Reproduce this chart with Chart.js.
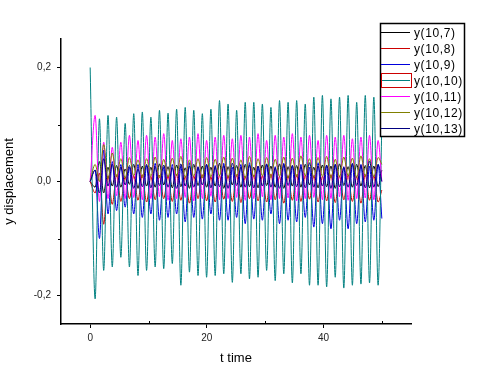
<!DOCTYPE html>
<html>
<head>
<meta charset="utf-8">
<script src="https://cdn.jsdelivr.net/npm/chart.js@4/dist/chart.umd.min.js"></script>
<style>
    html, body { margin: 0; padding: 0; background: #fff; }
</style>
</head>
<body>
<canvas id="dispChart" width="477" height="378"></canvas>
<script>
// sample times (turning points of y(10,10))
var tTime = [0, 0.85, 1.59, 2.32, 3.06, 3.79, 4.53, 5.26, 6.00, 6.73, 7.47, 8.20, 8.94, 9.67,
    10.41, 11.14, 11.88, 12.61, 13.35, 14.08, 14.82, 15.55, 16.29, 17.02, 17.76, 18.49, 19.23,
    19.96, 20.70, 21.43, 22.17, 22.90, 23.64, 24.37, 25.11, 25.84, 26.58, 27.31, 28.05, 28.78,
    29.52, 30.25, 30.99, 31.72, 32.46, 33.19, 33.93, 34.66, 35.40, 36.13, 36.87, 37.60, 38.34,
    39.07, 39.81, 40.54, 41.28, 42.01, 42.75, 43.48, 44.22, 44.95, 45.69, 46.42, 47.16, 47.89,
    48.63, 49.36, 50.00];

var y10_7 = [0,
    -0.010, 0.035, -0.020, 0.025, -0.008, 0.028, -0.010, 0.022, -0.005, 0.030, -0.012, 0.027,
    -0.008, 0.025, -0.010, 0.031, -0.006, 0.026, -0.011, 0.029, -0.009, 0.024, -0.012, 0.030,
    -0.007, 0.027, -0.010, 0.025, -0.008, 0.032, -0.012, 0.026, -0.006, 0.028, -0.010, 0.030,
    -0.009, 0.025, -0.011, 0.029, -0.007, 0.027, -0.010, 0.031, -0.012, 0.026, -0.008, 0.028,
    -0.010, 0.030, -0.006, 0.025, -0.011, 0.029, -0.009, 0.027, -0.012, 0.031, -0.007, 0.026,
    -0.010, 0.030, -0.008, 0.028, -0.011, 0.027,
    -0.009, 0.020];

var y10_8 = [0,
    -0.020, 0.015, -0.075, 0.010, -0.040, 0.012, -0.035, 0.008, -0.030, 0.010, -0.033, 0.012,
    -0.036, 0.009, -0.032, 0.011, -0.030, 0.010, -0.035, 0.013, -0.033, 0.009, -0.038, 0.010,
    -0.030, 0.012, -0.034, 0.008, -0.036, 0.011, -0.031, 0.010, -0.035, 0.012, -0.037, 0.009,
    -0.030, 0.011, -0.034, 0.010, -0.036, 0.013, -0.032, 0.009, -0.038, 0.010, -0.033, 0.012,
    -0.035, 0.011, -0.031, 0.010, -0.036, 0.009, -0.034, 0.012, -0.037, 0.010, -0.032, 0.011,
    -0.035, 0.009, -0.038, 0.012, -0.033, 0.010,
    -0.036, -0.015];

var y10_9 = [0,
    0.020, -0.100, 0.055, -0.057, 0.035, -0.051, 0.030, -0.045, 0.025, -0.057, 0.030, -0.063,
    0.028, -0.057, 0.032, -0.068, 0.025, -0.063, 0.030, -0.057, 0.027, -0.071, 0.033, -0.063,
    0.026, -0.066, 0.030, -0.057, 0.028, -0.068, 0.032, -0.068, 0.025, -0.063, 0.030, -0.074,
    0.033, -0.066, 0.027, -0.068, 0.030, -0.057, 0.026, -0.074, 0.032, -0.068, 0.028, -0.071,
    0.030, -0.063, 0.025, -0.080, 0.033, -0.074, 0.028, -0.083, 0.030, -0.068, 0.026, -0.083,
    0.032, -0.074, 0.030, -0.071, 0.027, -0.068,
    0.030, -0.065];

var y10_10 = [0.200,
    -0.206, 0.110, -0.156, 0.116, -0.150, 0.113, -0.133, 0.102, -0.150, 0.119, -0.165, 0.122,
    -0.156, 0.113, -0.150, 0.125, -0.153, 0.120, -0.144, 0.127, -0.182, 0.130, -0.159, 0.125,
    -0.165, 0.119, -0.168, 0.127, -0.165, 0.142, -0.162, 0.136, -0.177, 0.125, -0.162, 0.139,
    -0.171, 0.139, -0.168, 0.136, -0.156, 0.130, -0.174, 0.142, -0.162, 0.139, -0.178, 0.142,
    -0.162, 0.136, -0.182, 0.148, -0.182, 0.151, -0.185, 0.145, -0.168, 0.148, -0.187, 0.151,
    -0.182, 0.139, -0.180, 0.151, -0.178, 0.148,
    -0.182, 0.100];

var y10_11 = [0,
    0.116, -0.035, 0.069, -0.030, 0.060, -0.025, 0.069, -0.030, 0.081, -0.028, 0.072, -0.032,
    0.081, -0.030, 0.078, -0.027, 0.084, -0.033, 0.072, -0.030, 0.075, -0.028, 0.078, -0.034,
    0.084, -0.030, 0.072, -0.026, 0.078, -0.032, 0.081, -0.030, 0.075, -0.028, 0.081, -0.033,
    0.078, -0.030, 0.084, -0.027, 0.072, -0.032, 0.081, -0.030, 0.078, -0.029, 0.084, -0.034,
    0.078, -0.030, 0.081, -0.028, 0.072, -0.032, 0.081, -0.030, 0.078, -0.027, 0.081, -0.033,
    0.075, -0.030, 0.078, -0.029, 0.081, -0.032,
    0.072, 0.000];

var y10_12 = [0,
    0.030, 0.000, 0.065, 0.005, 0.050, 0.008, 0.040, 0.006, 0.042, 0.010, 0.038, 0.007,
    0.040, 0.009, 0.043, 0.006, 0.039, 0.008, 0.041, 0.010, 0.044, 0.007, 0.038, 0.009,
    0.040, 0.006, 0.042, 0.008, 0.039, 0.010, 0.043, 0.007, 0.041, 0.009, 0.038, 0.006,
    0.044, 0.008, 0.040, 0.010, 0.042, 0.007, 0.039, 0.009, 0.043, 0.006, 0.041, 0.008,
    0.045, 0.010, 0.040, 0.007, 0.042, 0.009, 0.044, 0.006, 0.039, 0.008, 0.043, 0.010,
    0.041, 0.007, 0.045, 0.009, 0.040, 0.008,
    0.042, 0.030];

var y10_13 = [0,
    0.020, -0.020, 0.040, -0.008, 0.030, -0.010, 0.025, -0.006, 0.028, -0.012, 0.022, -0.009,
    0.030, -0.011, 0.026, -0.007, 0.029, -0.010, 0.024, -0.012, 0.031, -0.008, 0.027, -0.010,
    0.025, -0.006, 0.030, -0.011, 0.026, -0.009, 0.028, -0.012, 0.032, -0.007, 0.025, -0.010,
    0.029, -0.011, 0.027, -0.008, 0.031, -0.010, 0.024, -0.012, 0.030, -0.007, 0.028, -0.009,
    0.026, -0.011, 0.033, -0.010, 0.027, -0.008, 0.029, -0.012, 0.030, -0.009, 0.025, -0.010,
    0.031, -0.007, 0.028, -0.011, 0.036, -0.010,
    0.030, 0.000];

var seriesLabels = ['y(10,7)', 'y(10,8)', 'y(10,9)', 'y(10,10)', 'y(10,11)', 'y(10,12)', 'y(10,13)'];
var seriesValues = [y10_7, y10_8, y10_9, y10_10, y10_11, y10_12, y10_13];
var seriesColors = ['#000000', '#cc0000', '#0000dd', '#008080', '#ff00ff', '#808000', '#000080'];

var xTicks = [0, 20, 40];
var xMinorTicks = [10, 30, 50];
var yTicks = [-0.2, 0, 0.2];
var yMinorTicks = [-0.1, 0.1];

var fontName = "'Liberation Sans', Arial, sans-serif";

function toPoints(vals) {
    return tTime.map(function (t, i) {
        return { x: t, y: vals[i] };
    });
}

// minor ticks + Origin style legend box
var originExtras = {
    id: 'originExtras',
    afterDraw: function (chart) {
        var ctx = chart.ctx;
        var xs = chart.scales.x, ys = chart.scales.y;
        var area = chart.chartArea;
        ctx.save();
        ctx.strokeStyle = '#000';
        ctx.lineWidth = 1;
        ctx.beginPath();
        xMinorTicks.forEach(function (v) {
            var px = Math.round(xs.getPixelForValue(v)) + 0.5;
            ctx.moveTo(px, area.bottom);
            ctx.lineTo(px, area.bottom - 3);
        });
        yMinorTicks.forEach(function (v) {
            var py = Math.round(ys.getPixelForValue(v)) + 0.5;
            ctx.moveTo(area.left, py);
            ctx.lineTo(area.left - 3, py);
        });
        ctx.stroke();

        // legend
        var bx = 380.5, by = 23.5, bw = 84, bh = 113;
        ctx.fillStyle = '#fff';
        ctx.fillRect(bx, by, bw, bh);
        ctx.lineWidth = 1.5;
        ctx.strokeStyle = '#000';
        ctx.strokeRect(bx, by, bw, bh);
        ctx.font = '12px ' + fontName;
        ctx.letterSpacing = '0.6px';
        ctx.textBaseline = 'middle';
        ctx.textAlign = 'left';
        chart.data.datasets.forEach(function (ds, i) {
            var ly = 32.5 + i * 16;
            ctx.strokeStyle = ds.borderColor;
            ctx.lineWidth = 1;
            ctx.beginPath();
            ctx.moveTo(381, ly);
            ctx.lineTo(410, ly);
            ctx.stroke();
            ctx.fillStyle = '#000';
            ctx.fillText(ds.label, 414, ly + 1);
        });
        // selection marker around y(10,10) sample
        ctx.strokeStyle = '#cc0000';
        ctx.lineWidth = 1;
        ctx.strokeRect(381.5, 73.5, 30, 14);
        ctx.restore();
    }
};

var ctx = document.getElementById('dispChart').getContext('2d');
var dispChart = new Chart(ctx, {
    type: 'line',
    data: {
        datasets: seriesValues.map(function (vals, i) {
            return {
                label: seriesLabels[i],
                data: toPoints(vals),
                borderColor: seriesColors[i],
                borderWidth: 1,
                pointRadius: 0,
                fill: false,
                order: seriesValues.length - i,   // later curves on top, like Origin
                cubicInterpolationMode: 'monotone'
            };
        })
    },
    options: {
        responsive: false,
        animation: false,
        layout: { padding: { left: 0, top: 39, right: 66, bottom: 0 } },
        plugins: {
            legend: { display: false },
            tooltip: { enabled: false }
        },
        scales: {
            x: {
                type: 'linear',
                min: -5,
                max: 55,
                afterFit: function (scale) { scale.height = 54; },
                afterBuildTicks: function (scale) {
                    scale.ticks = xTicks.map(function (v) { return { value: v }; });
                },
                border: { display: true, color: '#000', width: 1.5 },
                grid: { drawOnChartArea: false, drawTicks: true, tickLength: 4, color: '#000' },
                ticks: {
                    padding: 4,
                    color: '#222',
                    font: { family: fontName, size: 10 },
                    callback: function (v) { return String(v); }
                },
                title: {
                    display: true,
                    text: 't time',
                    color: '#000',
                    font: { family: fontName, size: 13 },
                    padding: { top: 0, bottom: 12 }
                }
            },
            y: {
                type: 'linear',
                min: -0.25,
                max: 0.25,
                afterFit: function (scale) { scale.width = 61; },
                afterBuildTicks: function (scale) {
                    scale.ticks = yTicks.map(function (v) { return { value: v }; });
                },
                border: { display: true, color: '#000', width: 1.5 },
                grid: { drawOnChartArea: false, drawTicks: true, tickLength: 4, color: '#000' },
                ticks: {
                    padding: 6,
                    color: '#222',
                    font: { family: fontName, size: 10 },
                    callback: function (v) { return v.toFixed(1).replace('.', ','); }
                },
                title: {
                    display: true,
                    text: 'y displacement',
                    color: '#000',
                    font: { family: fontName, size: 13 },
                    padding: { top: 2, bottom: 0 }
                }
            }
        }
    },
    plugins: [originExtras]
});
</script>
</body>
</html>
